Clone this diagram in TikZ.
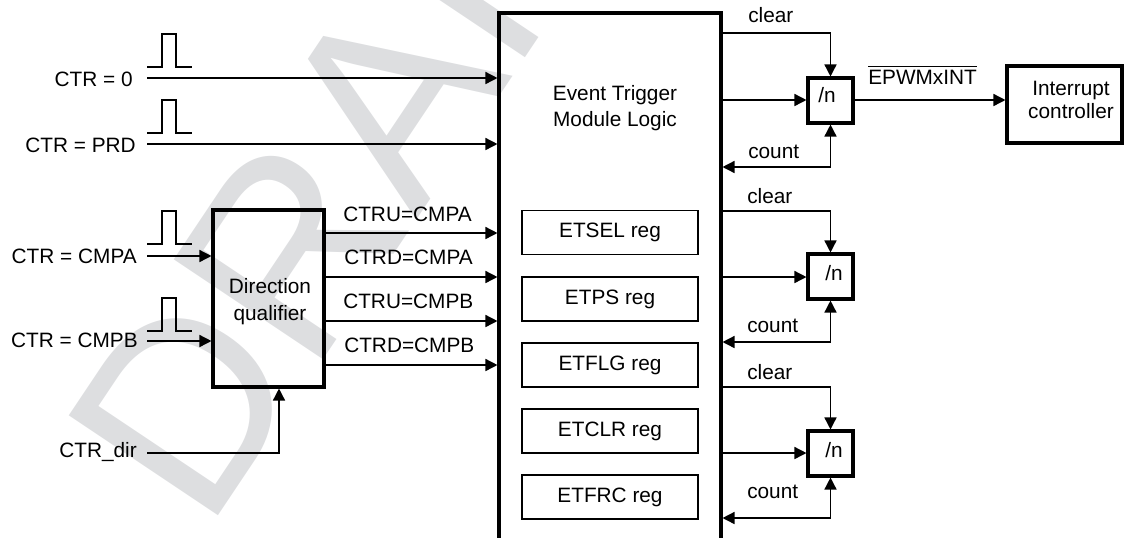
\documentclass[tikz,border=0pt]{standalone}
\usepackage{fontspec}
\setmainfont{Liberation Sans}
\usetikzlibrary{arrows.meta,fit}
\definecolor{wmgray}{RGB}{221,222,224}
\begin{document}
\begin{tikzpicture}[x=0.75pt,y=-0.75pt,
  wire/.style={line width=1.1pt},
  arr/.style={line width=1.1pt,-{Triangle[length=9pt,width=9pt]}},
  arrboth/.style={line width=1.1pt,{Triangle[length=9pt,width=9pt]}-{Triangle[length=9pt,width=9pt]}},
  bbox/.style={draw,line width=2.3pt,inner sep=0pt},
  rbox/.style={draw,line width=1pt,inner sep=0pt,minimum width=132pt,minimum height=33pt,font=\fontsize{15.6}{18}\selectfont},
  lbl/.style={inner sep=0pt,font=\fontsize{15.6}{18}\selectfont},
  pulse/.style={line width=1pt},
  pulsepic/.pic={\draw[pulse] (0,0) -- (15,0) -- (15,-33) -- (29,-33) -- (29,0) -- (45,0);}]
\useasboundingbox (0,0) rectangle (1125,537);
\clip (0,0) rectangle (1125,537);
% watermark
\node[anchor=base west,rotate=56.2,inner sep=0pt,text=wmgray,font=\fontsize{195.75}{196}\selectfont] (wm) at (206.5,534) {DRAFT};
% main block
\node[bbox,fit={(499,13)(721,600)}] (etm) {};
\node[lbl,anchor=base] (et1) at (615,100) {Event Trigger};
\node[lbl,anchor=base] (et2) at (615,126) {Module Logic};
% registers
\node[rbox] (r1) at (610,232.5) {ETSEL reg};
\node[rbox] (r2) at (610,299) {ETPS reg};
\node[rbox] (r3) at (610,365) {ETFLG reg};
\node[rbox] (r4) at (610,431) {ETCLR reg};
\node[rbox] (r5) at (610,497) {ETFRC reg};
% direction qualifier
\node[bbox,fit={(213,210)(324,387)}] (dq) {};
\node[lbl,anchor=base] (dq1) at (270,293) {Direction};
\node[lbl,anchor=base] (dq2) at (270,320) {qualifier};
% input labels
\node[lbl,anchor=base east] (l0) at (133,86) {CTR = 0};
\node[lbl,anchor=base east] (l1) at (136,152) {CTR = PRD};
\node[lbl,anchor=base east] (l2) at (137,263) {CTR = CMPA};
\node[lbl,anchor=base east] (l3) at (138,347) {CTR = CMPB};
\node[lbl,anchor=base east] (l4) at (137,457) {CTR\_dir};
% pulses
\pic at (147,67) {pulsepic};
\pic at (147,133) {pulsepic};
\pic at (147,244) {pulsepic};
\pic at (147,331) {pulsepic};
% input connectors
\coordinate (s0) at (147,78);
\coordinate (s1) at (147,144);
\coordinate (s2) at (147,256);
\coordinate (s3) at (147,341);
\coordinate (s4) at (147,453);
\coordinate (xd) at (279,0);
\draw[arr] (s0) -- (etm.west |- s0);
\draw[arr] (s1) -- (etm.west |- s1);
\draw[arr] (s2) -- (dq.west |- s2);
\draw[arr] (s3) -- (dq.west |- s3);
\draw[arr] (s4) -| (xd |- dq.south);
% qualifier outputs
\coordinate (o1) at (0,233);
\coordinate (o2) at (0,277);
\coordinate (o3) at (0,321);
\coordinate (o4) at (0,365);
\draw[arr] (dq.east |- o1) -- (etm.west |- o1);
\draw[arr] (dq.east |- o2) -- (etm.west |- o2);
\draw[arr] (dq.east |- o3) -- (etm.west |- o3);
\draw[arr] (dq.east |- o4) -- (etm.west |- o4);
\node[lbl,anchor=base west] (t1) at (343,221) {CTRU=CMPA};
\node[lbl,anchor=base west] (t2) at (344,264.5) {CTRD=CMPA};
\node[lbl,anchor=base west] (t3) at (343,308.5) {CTRU=CMPB};
\node[lbl,anchor=base west] (t4) at (344,352.5) {CTRD=CMPB};
% divide-by-n blocks
\node[bbox,fit={(808,78)(853,123)}] (n1) {};
\node[bbox,fit={(808,254)(853,299)}] (n2) {};
\node[bbox,fit={(808,431)(853,476)}] (n3) {};
\node[lbl,anchor=base west] (n1t) at (818,102) {/n};
\node[lbl,anchor=base west] (n2t) at (825,280) {/n};
\node[lbl,anchor=base west] (n3t) at (825,457) {/n};
\coordinate (c1) at (0,33);
\coordinate (c2) at (0,211);
\coordinate (c3) at (0,387);
\coordinate (e1) at (0,100);
\coordinate (e2) at (0,277);
\coordinate (e3) at (0,453);
\coordinate (k1) at (0,167);
\coordinate (k2) at (0,342);
\coordinate (k3) at (0,518);
\draw[arr] (etm.east |- c1) -| (n1.north);
\draw[arr] (etm.east |- c2) -| (n2.north);
\draw[arr] (etm.east |- c3) -| (n3.north);
\draw[arr] (etm.east |- e1) -- (n1.west |- e1);
\draw[arr] (etm.east |- e2) -- (n2.west |- e2);
\draw[arr] (etm.east |- e3) -- (n3.west |- e3);
\draw[arrboth] (etm.east |- k1) -| (n1.south);
\draw[arrboth] (etm.east |- k2) -| (n2.south);
\draw[arrboth] (etm.east |- k3) -| (n3.south);
\node[lbl,anchor=base west] (cl1) at (748,22) {clear};
\node[lbl,anchor=base west] (cl2) at (747,203) {clear};
\node[lbl,anchor=base west] (cl3) at (747,379) {clear};
\node[lbl,anchor=base west] (co1) at (748,158) {count};
\node[lbl,anchor=base west] (co2) at (747,332) {count};
\node[lbl,anchor=base west] (co3) at (747,498) {count};
% interrupt controller
\node[bbox,fit={(1007,66)(1122,143)}] (ic) {};
\node[lbl,anchor=base] (ic1) at (1071,95) {Interrupt};
\node[lbl,anchor=base] (ic2) at (1071,118) {controller};
\draw[arr] (n1.east |- e1) -- (ic.west |- e1);
\node[lbl,anchor=base west] (epw) at (868,84) {EPWMxINT};
\draw[line width=0.8pt] ([yshift=2.3pt]epw.north west) -- ([yshift=2.3pt]epw.north east);
\end{tikzpicture}
\end{document}
